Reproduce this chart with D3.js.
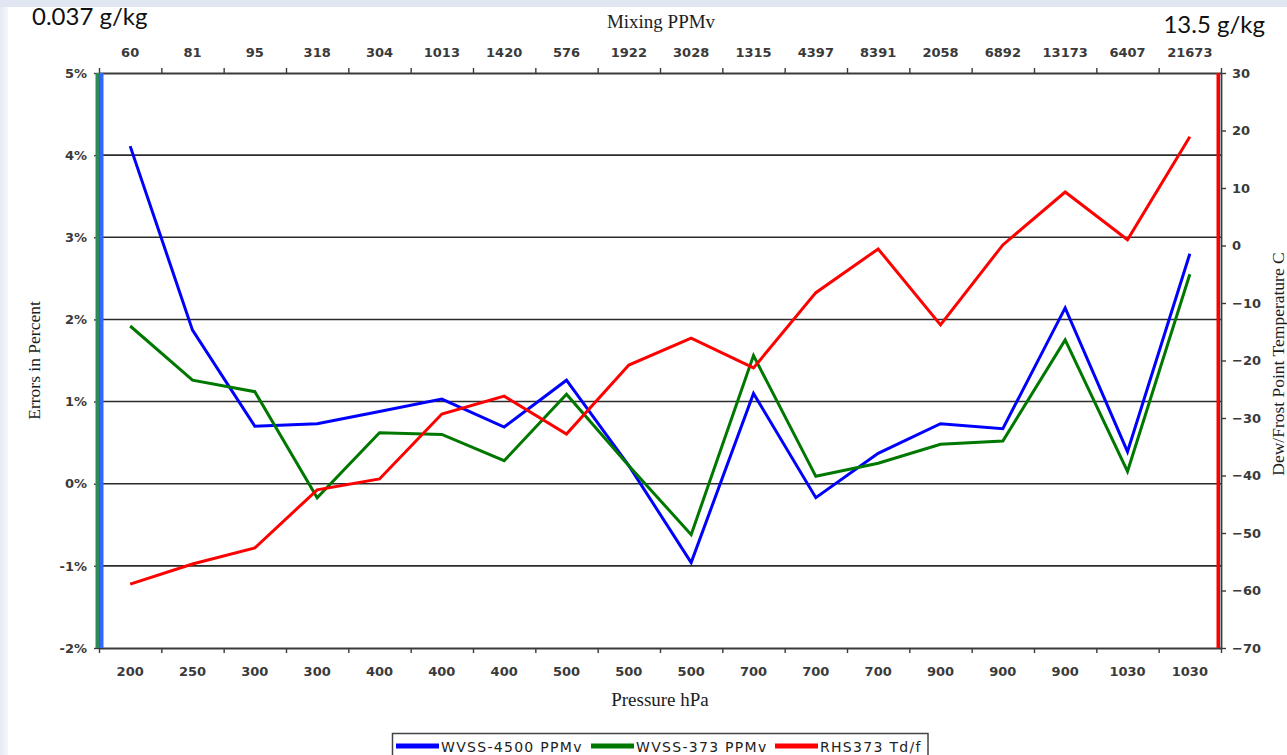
<!DOCTYPE html>
<html>
<head>
<meta charset="utf-8">
<script src="https://cdn.jsdelivr.net/npm/d3@7"></script>
<style>
  body { margin: 0; background: #ffffff; }
  svg { display: block; }
  .tick-lbl text { font-family: "DejaVu Sans", Verdana, sans-serif; font-weight: bold; font-size: 13px; fill: #3a3a3a; }
  .serif { font-family: "Liberation Serif", "Times New Roman", serif; fill: #1c1c1c; }
</style>
</head>
<body>
<svg id="chart" width="1287" height="755"></svg>
<script>
// Sounding levels (hPa) and matching mixing ratios (ppmv)
const pressure   = [200, 250, 300, 300, 400, 400, 400, 500, 500, 500, 700, 700, 700, 900, 900, 900, 1030, 1030];
const mixingPPMv = [60, 81, 95, 318, 304, 1013, 1420, 576, 1922, 3028, 1315, 4397, 8391, 2058, 6892, 13173, 6407, 21673];

// Errors in percent (left axis)
const wvss4500 = [4.11, 1.87, 0.70, 0.73, 0.88, 1.03, 0.69, 1.26, 0.22, -0.96, 1.10, -0.17, 0.37, 0.73, 0.67, 2.14, 0.39, 2.80];
const wvss373  = [1.92, 1.26, 1.12, -0.17, 0.62, 0.60, 0.28, 1.09, 0.22, -0.62, 1.56, 0.09, 0.25, 0.48, 0.52, 1.75, 0.15, 2.55];

// Dew / frost point in deg C (right axis)
const rhs373 = [-58.9, -55.4, -52.6, -42.5, -40.6, -29.3, -26.2, -32.8, -20.8, -16.1, -21.3, -8.2, -0.6, -13.8, 0.1, 9.3, 1.0, 18.9];

const leftTicks  = [-2, -1, 0, 1, 2, 3, 4, 5];
const rightTicks = [-70, -60, -50, -40, -30, -20, -10, 0, 10, 20, 30];
const gridValues = [-1, 0, 1, 2, 3, 4];

const seriesNames  = ["WVSS-4500 PPMv", "WVSS-373 PPMv", "RHS373 Td/f"];
const seriesColors = ["#0000ff", "#007800", "#ff0000"];

const svg = d3.select("#chart");
const W = 1287, H = 755;
const plot = { left: 99, right: 1221, top: 73, bottom: 648 };

// slide background strips
svg.append("rect").attr("x", 0).attr("y", 0).attr("width", W).attr("height", 7).attr("fill", "#e0e7f3");
const grad = svg.append("defs").append("linearGradient").attr("id", "edge").attr("x1", 0).attr("x2", 1);
grad.append("stop").attr("offset", 0).attr("stop-color", "#e4eaf5");
grad.append("stop").attr("offset", 1).attr("stop-color", "#f4f7fc");
svg.append("rect").attr("x", 0).attr("y", 7).attr("width", 8).attr("height", H - 7).attr("fill", "url(#edge)");

const idx = d3.range(pressure.length);
const xBand = d3.scaleBand().domain(idx).range([plot.left, plot.right]).padding(0);
const xEdge = d3.scaleLinear().domain([0, idx.length]).range([plot.left, plot.right]);
const xc = i => xBand(i) + xBand.bandwidth() / 2;
const yL = d3.scaleLinear().domain([-2, 5]).range([plot.bottom, plot.top]);
const yR = d3.scaleLinear().domain([-70, 30]).range([plot.bottom, plot.top]);

// horizontal gridlines
svg.append("g").selectAll("line").data(gridValues).join("line")
  .attr("x1", plot.left).attr("x2", plot.right)
  .attr("y1", d => yL(d)).attr("y2", d => yL(d))
  .attr("stroke", "#2b2b2b").attr("stroke-width", 1.6);

function styleAxis(g) {
  g.select(".domain").attr("stroke", "#3a3a3a").attr("stroke-width", 1.8);
  g.selectAll(".tick line").attr("stroke", "#3a3a3a").attr("stroke-width", 1.4);
}

// bottom axis: tick marks on category boundaries, labels centred in categories
svg.append("g").attr("transform", `translate(0,${plot.bottom})`)
  .call(d3.axisBottom(xEdge).tickValues(d3.range(idx.length + 1)).tickFormat("").tickSizeInner(5).tickSizeOuter(0))
  .call(styleAxis);
svg.append("g").attr("class", "tick-lbl").attr("transform", `translate(0,${plot.bottom})`)
  .call(d3.axisBottom(xBand).tickFormat(i => pressure[i]).tickSize(0).tickPadding(19))
  .call(g => g.select(".domain").remove());

// top axis: mixing ratio
svg.append("g").attr("transform", `translate(0,${plot.top})`)
  .call(d3.axisTop(xEdge).tickValues(d3.range(idx.length + 1)).tickFormat("").tickSizeInner(5).tickSizeOuter(0))
  .call(styleAxis);
svg.append("g").attr("class", "tick-lbl").attr("transform", `translate(0,${plot.top})`)
  .call(d3.axisTop(xBand).tickFormat(i => mixingPPMv[i]).tickSize(0).tickPadding(16))
  .call(g => g.select(".domain").remove());

// left axis: percent error
svg.append("g").attr("class", "tick-lbl").attr("transform", `translate(${plot.left},0)`)
  .call(d3.axisLeft(yL).tickValues(leftTicks).tickFormat(d => d + "%").tickSizeInner(5).tickSizeOuter(0).tickPadding(7))
  .call(styleAxis);

// right axis: dew / frost point
svg.append("g").attr("class", "tick-lbl").attr("transform", `translate(${plot.right},0)`)
  .call(d3.axisRight(yR).tickValues(rightTicks).tickSizeInner(5).tickSizeOuter(0).tickPadding(6))
  .call(styleAxis);

// coloured edge markers along the two vertical axes
svg.append("rect").attr("x", xEdge(0) - 3.5).attr("y", plot.top).attr("width", 4).attr("height", plot.bottom - plot.top).attr("fill", "#2e8b57");
svg.append("rect").attr("x", xEdge(0) + 0.5).attr("y", plot.top).attr("width", 4).attr("height", plot.bottom - plot.top).attr("fill", "#3366ff");
svg.append("rect").attr("x", xEdge(idx.length) - 4.5).attr("y", plot.top).attr("width", 3.5).attr("height", plot.bottom - plot.top).attr("fill", "#ff0000");

// data lines
const lineL = d3.line().x((d, i) => xc(i)).y(d => yL(d));
const lineR = d3.line().x((d, i) => xc(i)).y(d => yR(d));
[[wvss4500, lineL, 0], [wvss373, lineL, 1], [rhs373, lineR, 2]].forEach(([vals, gen, k]) => {
  svg.append("path").datum(vals).attr("d", gen)
    .attr("fill", "none").attr("stroke", seriesColors[k]).attr("stroke-width", 3)
    .attr("stroke-linejoin", "miter");
});

// axis titles
svg.append("text").attr("class", "serif").attr("x", 661).attr("y", 28)
  .attr("text-anchor", "middle").attr("font-size", 19).text("Mixing PPMv");
svg.append("text").attr("class", "serif").attr("x", 660).attr("y", 706)
  .attr("text-anchor", "middle").attr("font-size", 19).text("Pressure hPa");
svg.append("text").attr("class", "serif").attr("transform", `translate(40,${(plot.top + plot.bottom) / 2}) rotate(-90)`)
  .attr("text-anchor", "middle").attr("font-size", 17.5).text("Errors in Percent");
svg.append("text").attr("class", "serif").attr("transform", `translate(1284,364) rotate(-90)`)
  .attr("text-anchor", "middle").attr("font-size", 17.5).text("Dew/Frost Point Temperature C");

// range annotations
svg.append("text").attr("x", 32).attr("y", 25).attr("font-family", "Lato, 'Liberation Sans', sans-serif")
  .attr("font-size", 24).attr("fill", "#111").text("0.037 g/kg");
svg.append("text").attr("x", 1265).attr("y", 33).attr("text-anchor", "end").attr("font-family", "Lato, 'Liberation Sans', sans-serif")
  .attr("font-size", 24).attr("fill", "#111").text("13.5 g/kg");

// legend
const legend = svg.append("g");
legend.append("rect").attr("x", 392.5).attr("y", 733.5).attr("width", 535.5).attr("height", 30)
  .attr("fill", "#fff").attr("stroke", "#444").attr("stroke-width", 1.5);
const legendX = [396, 591, 775];
seriesNames.forEach((name, k) => {
  legend.append("line").attr("x1", legendX[k]).attr("x2", legendX[k] + 43)
    .attr("y1", 746).attr("y2", 746).attr("stroke", seriesColors[k]).attr("stroke-width", 5);
  legend.append("text").attr("x", legendX[k] + 45).attr("y", 752)
    .attr("font-family", "'DejaVu Sans', Verdana, sans-serif").attr("font-size", 14)
    .attr("letter-spacing", 1.3).attr("fill", "#222").text(name);
});
</script>
</body>
</html>
